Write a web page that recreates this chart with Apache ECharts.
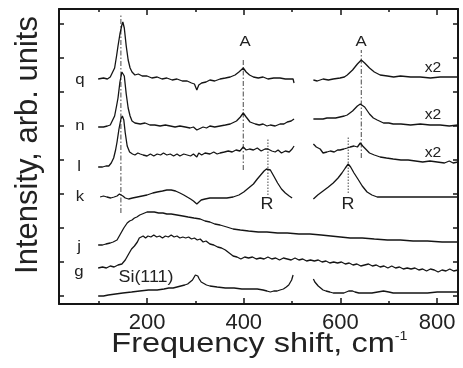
<!DOCTYPE html>
<html>
<head>
<meta charset="utf-8">
<script src="https://cdn.jsdelivr.net/npm/echarts@6/dist/echarts.min.js"></script>
<style>html,body{margin:0;padding:0;background:#fff}#chart{width:463px;height:368px}</style>
</head>
<body>
<div id="chart"></div>
<script>
// tick positions (cm-1 and arbitrary offset units)
const xMajor = [200, 400, 600, 800];
const xMinor = [100, 300, 500, 700];
const yTicks = [8, 42, 76, 110, 144, 178, 212, 246, 280];

// spectra, [shift, intensity + offset]; upper four have a gap 505-540
const qLeft = [[99,225],[110,226],[118,225],[124,227],[128,229],[133,236],[137,248],[140,258],[144,270],[148,279],[150,282],[153,276],[157,258],[161,244],[165,236],[169,232],[175,229],[182,230],[190,228],[200,228],[210,226],[221,227],[231,225],[241,226],[252,224],[262,225],[273,223],[283,223],[292,221],[298,220],[303,214],[307,219],[313,221],[322,222],[330,224],[340,223],[351,225],[362,226],[372,227],[382,229],[390,232],[399,236],[405,232],[412,229],[420,227],[430,226],[440,227],[450,225],[462,226],[475,226],[486,225],[496,225],[502,225],[504,221]];
const qRight = [[544,224],[552,223],[564,225],[575,224],[585,225],[599,226],[608,227],[614,229],[625,234],[635,240],[643,244],[650,241],[660,236],[670,232],[682,229],[697,228],[710,227],[724,228],[745,227],[765,227],[786,226],[806,227],[825,227],[843,227]];
const nLeft = [[99,177],[110,177],[118,178],[124,179],[128,181],[133,188],[137,198],[140,206],[144,222],[148,232],[150,234],[153,228],[157,210],[161,196],[165,188],[169,183],[175,181],[186,180],[196,181],[206,179],[216,179],[227,178],[238,179],[248,178],[258,177],[268,178],[279,177],[289,176],[296,177],[299,176],[303,174],[307,176],[316,177],[323,176],[330,178],[340,177],[351,178],[362,179],[372,180],[385,183],[393,187],[399,191],[405,187],[413,182],[424,180],[432,179],[440,180],[448,178],[455,179],[465,178],[475,180],[483,180],[490,182],[498,183],[504,185]];
const nRight = [[544,185],[552,185],[564,185],[572,186],[579,186],[590,186],[599,187],[608,188],[614,189],[625,193],[635,198],[641,200],[650,197],[660,190],[668,186],[676,184],[689,181],[700,181],[709,180],[725,180],[745,179],[765,180],[785,179],[806,179],[825,178],[843,179]];
const lLeft = [[99,137],[108,137],[115,138],[121,138],[126,141],[131,146],[135,154],[138,162],[142,175],[146,185],[149,188],[152,184],[155,171],[159,158],[164,152],[170,150],[175,149],[181,151],[186,150],[192,149],[200,148],[207,150],[214,148],[221,150],[228,149],[234,151],[241,149],[248,150],[255,148],[262,150],[268,148],[276,150],[283,149],[290,148],[296,150],[303,147],[307,151],[313,149],[320,151],[330,150],[338,152],[345,150],[351,151],[360,152],[368,153],[376,152],[384,154],[392,153],[399,157],[405,154],[412,155],[420,154],[428,156],[436,153],[444,155],[450,155],[458,153],[465,152],[471,154],[478,151],[486,153],[494,152],[500,155],[504,158]];
const lRight = [[544,160],[550,157],[558,155],[564,151],[572,152],[579,153],[587,152],[594,154],[599,154],[607,155],[614,156],[620,157],[628,158],[635,157],[641,161],[646,158],[652,155],[660,151],[670,149],[682,147],[695,146],[709,145],[725,144],[740,144],[755,143],[770,142],[785,143],[800,142],[815,141],[825,143],[833,141],[843,142]];
const kLeft = [[103,107],[110,108],[117,107],[125,106],[132,107],[138,108],[143,110],[146,111],[150,108],[155,106],[162,105],[170,106],[180,107],[190,108],[200,109],[212,111],[221,112],[232,113],[241,114],[250,114],[259,113],[268,111],[276,109],[283,107],[290,105],[296,103],[300,101],[303,100],[307,102],[312,104],[320,105],[330,106],[340,106],[351,106],[365,106],[378,107],[390,109],[400,112],[410,116],[420,120],[428,125],[435,129],[442,133],[447,135],[450,136],[455,134],[462,128],[470,121],[478,115],[486,111],[494,108],[500,106]];
const kRight = [[544,105],[553,109],[564,113],[575,117],[585,121],[595,126],[603,131],[610,136],[616,140],[621,137],[628,131],[636,125],[645,118],[655,112],[665,109],[676,107],[690,107],[710,107],[735,107],[765,107],[800,107],[843,107]];
const jSpec = [[99,59],[108,59],[115,60],[124,61],[130,62],[138,64],[145,70],[152,76],[159,81],[164,83],[169,84],[174,86],[179,87],[185,89],[190,90],[195,91],[200,92],[208,92],[215,92],[224,91],[233,91],[241,90],[250,90],[262,89],[274,88],[285,87],[297,86],[310,85],[320,83],[330,82],[340,80],[351,79],[365,77],[378,75],[393,74],[410,73],[430,72],[448,72],[470,71],[490,71],[514,70],[537,70],[560,69],[580,68],[600,67],[620,66],[645,66],[670,65],[697,64],[724,64],[750,63],[780,63],[810,62],[843,62]];
const gSpec = [[99,36],[108,37],[116,36],[124,38],[132,37],[140,39],[148,40],[155,44],[162,50],[168,55],[174,58],[180,62],[184,66],[188,65],[192,68],[197,66],[202,68],[208,67],[214,69],[220,67],[226,68],[232,66],[238,68],[244,67],[250,69],[256,67],[262,68],[268,66],[274,67],[280,66],[286,67],[292,65],[298,66],[304,64],[310,65],[316,62],[322,63],[330,60],[338,59],[346,57],[354,56],[362,54],[370,51],[378,48],[386,47],[394,45],[402,47],[410,46],[418,47],[426,45],[434,46],[442,45],[450,47],[458,45],[466,46],[474,44],[482,46],[490,45],[498,44],[506,46],[514,44],[522,45],[530,43],[538,44],[546,43],[554,44],[562,42],[570,43],[578,41],[586,42],[594,41],[602,42],[610,40],[618,41],[626,39],[634,40],[642,38],[650,39],[658,40],[666,38],[674,39],[682,37],[690,38],[698,36],[706,38],[714,36],[722,37],[730,35],[738,36],[746,35],[754,36],[762,34],[770,35],[778,33],[786,35],[794,34],[802,32],[810,34],[818,33],[826,35],[834,33],[843,34]];
const siLeft = [[99,8],[110,8],[120,9],[135,10],[150,11],[168,12],[185,13],[203,14],[221,14],[235,15],[245,16],[254,16],[262,17],[270,18],[278,19],[284,20],[289,22],[294,24],[297,26],[300,29],[303,31],[305,28],[308,25],[312,22],[316,21],[323,19],[330,18],[345,17],[362,16],[380,16],[396,15],[413,15],[428,15],[440,14],[448,13],[455,12],[462,13],[469,13],[475,14],[482,15],[488,17],[493,19],[496,21],[499,24],[502,29]];
const siRight = [[544,25],[547,22],[550,20],[554,18],[558,16],[564,14],[570,13],[578,12],[585,11],[593,11],[600,11],[607,11],[612,12],[617,13],[620,13],[625,13],[630,12],[638,11],[645,11],[655,11],[665,11],[677,12],[689,13],[700,12],[709,11],[720,11],[740,11],[760,11],[780,11],[800,12],[820,12],[843,12]];

// reference lines: [shift, bottom, top]
const siLine = [[146, 91, 289]];
const aLines = [[399, 134, 244], [643, 146, 254]];
const rLines = [[450, 109, 166], [616, 111, 167]];

const ink = '#151515';
const spectra = [qLeft, qRight, nLeft, nRight, lLeft, lRight, kLeft, kRight, jSpec, gSpec, siLeft, siRight];

function xAxisDef(position, ticks, len, withLine, withLabel) {
    return {
        type: 'value', position: position, min: 18, max: 843,
        axisLine: { show: withLine, onZero: false, lineStyle: { color: ink, width: 2 } },
        axisTick: { show: true, inside: true, length: len, customValues: ticks, lineStyle: { color: ink, width: 1.5 } },
        axisLabel: { show: withLabel, customValues: xMajor, margin: 8, color: '#222', fontSize: 22, fontFamily: 'Liberation Sans, Arial, sans-serif' },
        splitLine: { show: false }
    };
}

function yAxisDef(position) {
    return {
        type: 'value', position: position, min: 0, max: 295,
        axisLine: { show: true, onZero: false, lineStyle: { color: ink, width: 2 } },
        axisTick: { show: true, inside: true, length: 5, customValues: yTicks, lineStyle: { color: ink, width: 1.5 } },
        axisLabel: { show: false },
        splitLine: { show: false }
    };
}

function refLine(item, dash) {
    return {
        type: 'line', data: [[item[0], item[1]], [item[0], item[2]]],
        symbol: 'none', silent: true, z: 2,
        lineStyle: { color: '#333', width: 0.9, type: dash }
    };
}

const series = spectra.map(d => ({
    type: 'line', data: d, symbol: 'none', silent: true, z: 3,
    lineStyle: { color: ink, width: 1.3 }
}));
siLine.concat(aLines).forEach(it => series.push(refLine(it, [5, 2, 1.5, 2])));
rLines.forEach(it => series.push(refLine(it, [1.5, 1.5])));

const font = 'Liberation Sans, Arial, sans-serif';
function label(text, x, y, size) {
    return {
        type: 'text', x: x, y: y, scaleX: 1.12,
        style: { text: text, fill: '#222', font: size + 'px ' + font, align: 'center', verticalAlign: 'middle' }
    };
}

const option = {
    animation: false,
    backgroundColor: '#fff',
    grid: { left: 59, right: 5, top: 9, bottom: 64 },
    xAxis: [
        xAxisDef('bottom', xMajor, 6, true, true),
        xAxisDef('bottom', xMinor, 3, false, false),
        xAxisDef('top', xMajor, 6, true, false),
        xAxisDef('top', xMinor, 3, false, false)
    ],
    yAxis: [yAxisDef('left'), yAxisDef('right')],
    series: series,
    graphic: [
        label('q', 80, 80, 15), label('n', 80, 126, 15), label('l', 79, 167, 15),
        label('k', 80, 197, 15), label('j', 79, 247, 15), label('g', 79, 272, 15),
        label('A', 245, 42, 15), label('A', 361, 42, 15),
        label('R', 267, 205, 16), label('R', 348, 205, 16),
        label('x2', 433, 68, 14), label('x2', 433, 115, 14), label('x2', 433, 153, 14),
        label('Si(111)', 146, 278, 16),
        {
            type: 'text', x: 253, y: 344, scaleX: 1.16,
            style: { text: 'Frequency shift, cm', fill: '#222', font: '28px ' + font, align: 'center', verticalAlign: 'middle' }
        },
        {
            type: 'text', x: 401, y: 336, scaleX: 1.1,
            style: { text: '-1', fill: '#222', font: '13px ' + font, align: 'center', verticalAlign: 'middle' }
        },
        {
            type: 'text', x: 28, y: 145, rotation: Math.PI / 2,
            style: { text: 'Intensity, arb. units', fill: '#222', font: '31px ' + font, align: 'center', verticalAlign: 'middle' }
        }
    ]
};

const chart = echarts.init(document.getElementById('chart'), null, { renderer: 'canvas' });
chart.setOption(option);
</script>
</body>
</html>
